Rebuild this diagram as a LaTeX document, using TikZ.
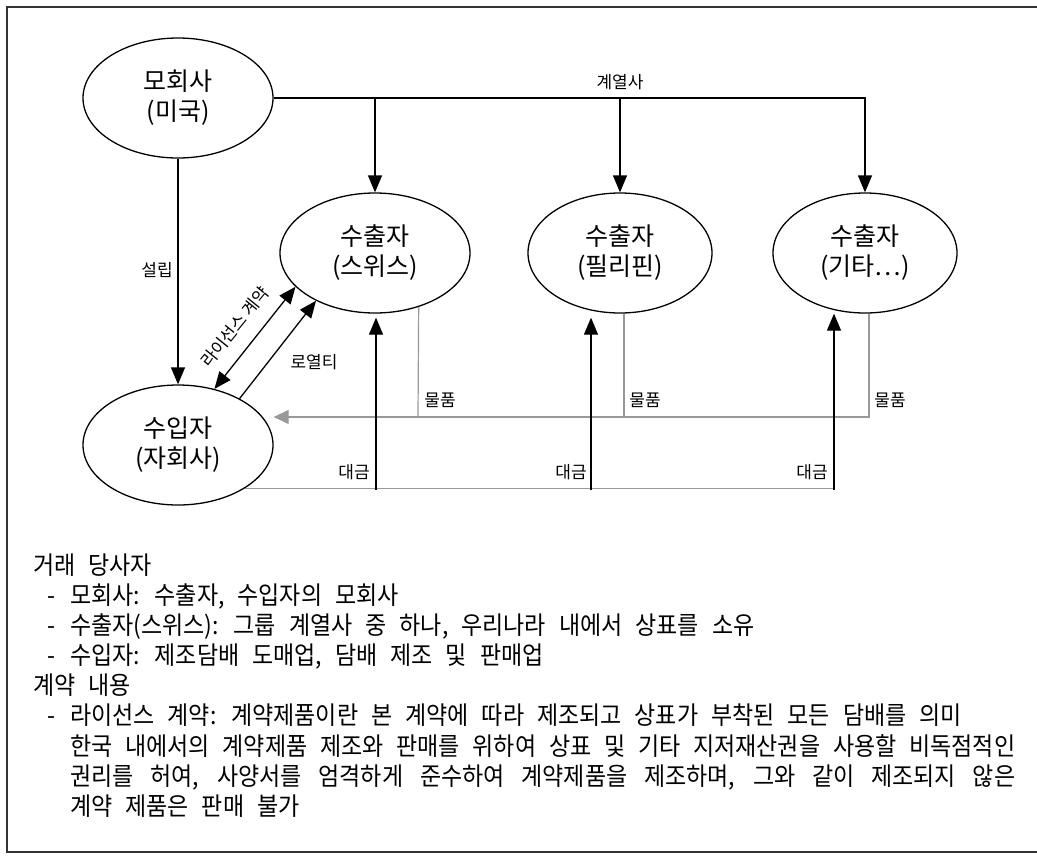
\documentclass[tikz,border=0pt]{standalone}
\usepackage{fontspec}
\setmainfont{Noto Sans CJK KR}
\newfontfamily\bodyfont[FakeStretch=0.92]{Noto Sans CJK KR}
\usetikzlibrary{shapes.geometric,arrows.meta}
\definecolor{goodsgray}{HTML}{999999}
\definecolor{framegray}{HTML}{333333}
\newcommand{\bodyline}[1]{{\spaceskip=0.52em plus 0.6em minus 0.2em #1}}
\begin{document}
\begin{tikzpicture}[x=1pt,y=-1pt,
  ent/.style={ellipse,draw,line width=1.3pt,minimum width=190pt,minimum height=120pt,inner sep=0pt,align=center,font=\fontsize{25}{30}\selectfont},
  lab/.style={font=\fontsize{17}{19}\selectfont,inner sep=0pt},
  arr/.style={line width=1.3pt,-{Triangle[length=17pt,width=14pt]}},
  dblarr/.style={line width=1.3pt,{Triangle[length=17pt,width=14pt]}-{Triangle[length=17pt,width=14pt]}},
  goods/.style={draw=goodsgray,line width=1.2pt},
  pay/.style={draw=goodsgray,line width=1.3pt},
  txt/.style={anchor=base west,inner sep=0pt,font=\bodyfont\fontsize{25}{30}\selectfont}]
\useasboundingbox (0,0) rectangle (1037,855);
\draw[framegray,line width=1.8pt] (1050,7) -- (7,7) -- (7,852) -- (1050,852);

% entities
\node[ent] (moh) at (178,98) {모회사\\(미국)};
\node[ent] (sw) at (375,253) {수출자\\(스위스)};
\node[ent,minimum width=184pt] (ph) at (620,253) {수출자\\(필리핀)};
\node[ent,minimum width=184pt] (oth) at (865,253) {수출자\\(기타…)};
\node[ent] (imp) at (178,445) {수입자\\(자회사)};

% affiliates
\draw[arr] (moh.east) -| (oth.north);
\draw[arr] (moh.east -| sw.north) -- (sw.north);
\draw[arr] (moh.east -| ph.north) -- (ph.north);
\node[lab] (kyel) at (620,82) {계열사};

% establishment
\draw[arr] (moh.south) -- (imp.north);
\node[lab] (seol) at (157,270) {설립};

% license and royalty
\draw[dblarr] (imp.57) -- (sw.203.6);
\node[lab,rotate=51] (lic) at (235,327) {라이선스 계약};
\draw[arr] (imp.37.7) -- (sw.219.5);
\node[lab] (roy) at (314,362) {로열티};

% goods
\coordinate (g1) at (418,417);
\coordinate (g2) at (624,417);
\coordinate (g3) at (869,417);
\draw[goods] (sw.-51.2) -- (g1);
\draw[goods] (ph.south -| g2) -- (g2);
\draw[goods,-{Triangle[length=15pt,width=14pt]}] (oth.south -| g3) |- (imp.east |- g3);
\node[lab] (m1) at (440,400) {물품};
\node[lab] (m2) at (645,400) {물품};
\node[lab] (m3) at (890,400) {물품};

% payment
\coordinate (p0) at (imp.-33);
\coordinate (p1) at (376,490);
\coordinate (p2) at (591,490);
\coordinate (p3) at (834,490);
\draw[pay] (p0) -- (p0 -| p3);
\draw[arr,shorten >=4pt] (p1) -- (p1 |- sw.south);
\draw[arr,shorten >=4pt] (p2) -- (p2 |- ph.south);
\draw[arr] (p3) -- (p3 |- oth.south);
\node[lab] (d1) at (354,472) {대금};
\node[lab] (d2) at (571,472) {대금};
\node[lab] (d3) at (812,472) {대금};

% description text
\node[txt] (l1) at (33,574) {\bodyline{거래 당사자}};
\node[txt] (l2) at (47,604) {\bodyline{\makebox[23pt][l]{-}모회사: 수출자, 수입자의 모회사}};
\node[txt] (l3) at (47,634) {\bodyline{\makebox[23pt][l]{-}수출자(스위스): 그룹 계열사 중 하나, 우리나라 내에서 상표를 소유}};
\node[txt] (l4) at (47,664.5) {\bodyline{\makebox[23pt][l]{-}수입자: 제조담배 도매업, 담배 제조 및 판매업}};
\node[txt] (l5) at (33,694.5) {\bodyline{계약 내용}};
\node[txt] (l6) at (47,724.5) {\bodyline{\makebox[23pt][l]{-}라이선스 계약: 계약제품이란 본 계약에 따라 제조되고 상표가 부착된 모든 담배를 의미}};
\node[txt] (l7) at (70,755) {\bodyline{\makebox[945pt][s]{한국 내에서의 계약제품 제조와 판매를 위하여 상표 및 기타 지저재산권을 사용할 비독점적인}}};
\node[txt] (l8) at (70,785) {\bodyline{\makebox[945pt][s]{권리를 허여, 사양서를 엄격하게 준수하여 계약제품을 제조하며, 그와 같이 제조되지 않은}}};
\node[txt] (l9) at (70,815) {\bodyline{계약 제품은 판매 불가}};
\end{tikzpicture}
\end{document}
